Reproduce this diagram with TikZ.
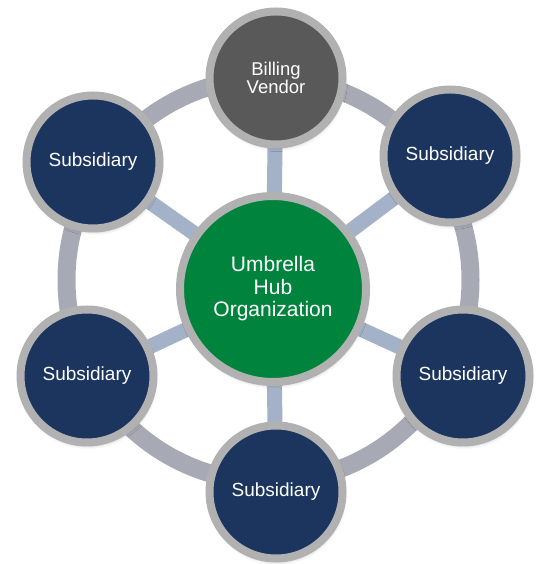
\documentclass[tikz,border=0pt]{standalone}
\usepackage{fontspec}
\setmainfont{Liberation Sans}
\usetikzlibrary{shadows.blur}
\definecolor{navy}{HTML}{1C355E}
\definecolor{vendorgray}{HTML}{595959}
\definecolor{hubgreen}{HTML}{00843D}
\definecolor{rimgray}{HTML}{B1B1B1}
\definecolor{ringgray}{HTML}{A7AAB4}
\definecolor{spokeblue}{HTML}{A4B2C9}
\tikzset{
  disc/.style={circle, draw=rimgray, line width=8pt, inner sep=0pt,
    text=white, align=center,
    blur shadow={shadow xshift=1pt, shadow yshift=-3pt, shadow blur steps=6,
      shadow blur radius=4pt, shadow opacity=25}},
  member/.style={disc, fill=navy, minimum size=133pt, font=\fontsize{19}{19}\selectfont},
  vendor/.style={disc, fill=vendorgray, minimum size=133pt, font=\fontsize{18.5}{18.5}\selectfont},
  hub/.style={disc, fill=hubgreen, minimum size=186pt, font=\fontsize{21}{22.5}\selectfont},
  spoke/.style={draw=spokeblue, line width=15pt},
  ring/.style={draw=ringgray, line width=18pt}
}
\begin{document}
\begin{tikzpicture}[x=1pt, y=1pt]
  \useasboundingbox (0,0) rectangle (535,564);
  % outer ring linking the members
  \coordinate (ringc) at (268.5,284);
  \draw[ring] (ringc) circle[radius=202];
  % node positions
  \coordinate (phub) at (273,275);
  \coordinate (pv) at (276,486);
  \coordinate (ptl) at (93,402);
  \coordinate (ptr) at (450,408);
  \coordinate (pl) at (87,188);
  \coordinate (pr) at (463,188);
  \coordinate (pb) at (276,72);
  % spokes from the hub
  \foreach \p in {pv,ptl,ptr,pl,pr,pb}
    \draw[spoke] (phub) -- (\p);
  % discs
  \node[hub] (hub) at (phub) {Umbrella\\Hub\\Organization};
  \node[vendor] (vendor) at (pv) {Billing\\Vendor};
  \node[member] (tl) at (ptl) {Subsidiary};
  \node[member] (tr) at (ptr) {Subsidiary};
  \node[member] (l) at (pl) {Subsidiary};
  \node[member] (r) at (pr) {Subsidiary};
  \node[member] (b) at (pb) {Subsidiary};
\end{tikzpicture}
\end{document}
